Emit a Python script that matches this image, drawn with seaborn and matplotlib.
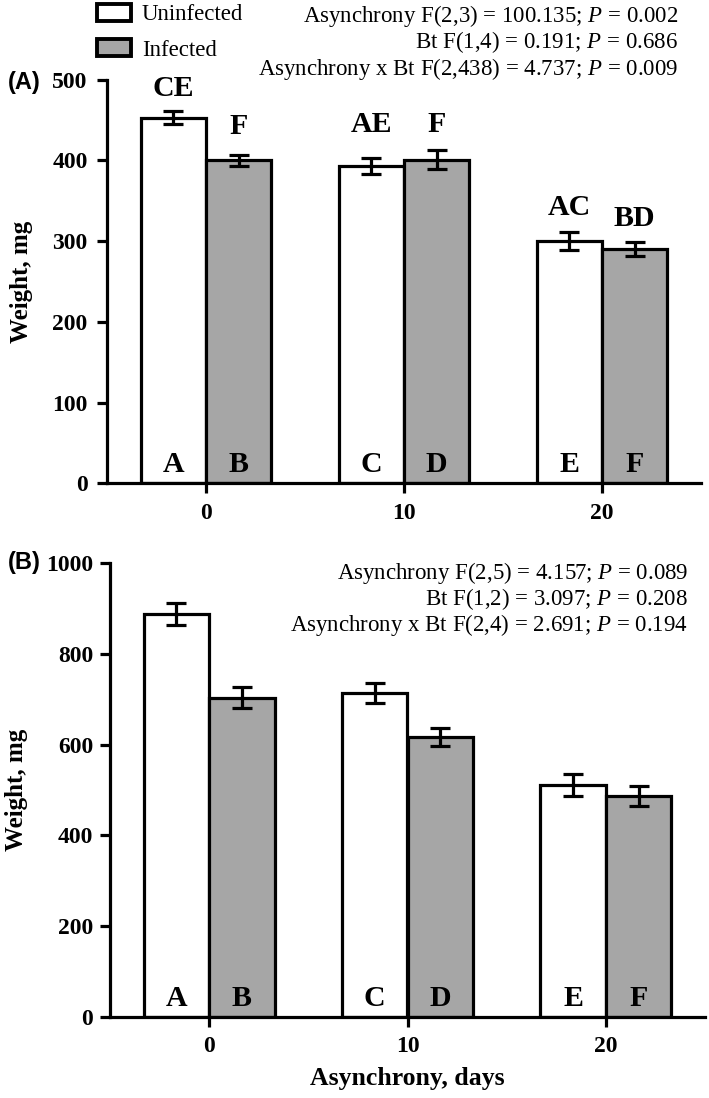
import matplotlib
matplotlib.use("Agg")
import matplotlib.pyplot as plt
from matplotlib.patches import Patch
import seaborn as sns
import pandas as pd
import numpy as np

# ---------------- data ----------------
asynchrony = ["0", "10", "20"]
groups = ["Uninfected", "Infected"]

# Panel A
a_uninf = [453, 393, 300]
a_inf = [400, 401, 290]
a_uninf_err = [8, 10, 11]
a_inf_err = [7, 12, 9]
a_sig = ["CE", "F", "AE", "F", "AC", "BD"]          # order: 0U,0I,10U,10I,20U,20I
a_sig_y = [489, 442, 444, 444, 342, 328]

# Panel B
b_uninf = [888, 713, 511]
b_inf = [704, 616, 486]
b_uninf_err = [24, 22, 25]
b_inf_err = [24, 20, 22]

bar_letters = ["A", "B", "C", "D", "E", "F"]

a_stats = ["Asynchrony F(2,3) = 100.135; $\\mathit{P}$ = 0.002",
           "Bt F(1,4) = 0.191; $\\mathit{P}$ = 0.686",
           "Asynchrony x Bt F(2,438) = 4.737; $\\mathit{P}$ = 0.009"]
b_stats = ["Asynchrony F(2,5) = 4.157; $\\mathit{P}$ = 0.089",
           "Bt F(1,2) = 3.097; $\\mathit{P}$ = 0.208",
           "Asynchrony x Bt F(2,4) = 2.691; $\\mathit{P}$ = 0.194"]

# ---------------- style ----------------
sns.set_style("ticks")
plt.rcParams["font.family"] = ["Liberation Serif", "DejaVu Serif"]
plt.rcParams["mathtext.fontset"] = "custom"
plt.rcParams["mathtext.it"] = "Liberation Serif:italic"
plt.rcParams["mathtext.rm"] = "Liberation Serif"
for k in ("text.color", "axes.labelcolor", "xtick.color", "ytick.color", "axes.edgecolor"):
    plt.rcParams[k] = "black"

GREY = "#a6a6a6"
LW = 2.3
W, H = 709, 1098

fig = plt.figure(figsize=(W / 100, H / 100), dpi=100)
ax1 = fig.add_axes([107 / W, 1 - 483.3 / H, (701 - 107) / W, (483.3 - 79.6) / H])
ax2 = fig.add_axes([110 / W, 1 - 1016.7 / H, (705 - 110) / W, (1016.7 - 563.3) / H])


def make_df(unin, inf, ue, ie):
    rows = []
    for i, a in enumerate(asynchrony):
        rows.append(dict(asynchrony=a, status="Uninfected", weight=unin[i], err=ue[i]))
        rows.append(dict(asynchrony=a, status="Infected", weight=inf[i], err=ie[i]))
    return pd.DataFrame(rows)


def draw(ax, df, ymax, ystep, letter_y, sig=None, sig_y=None, ypad=8):
    sns.barplot(data=df, x="asynchrony", y="weight", hue="status",
                order=asynchrony, hue_order=groups,
                palette={"Uninfected": "white", "Infected": GREY},
                edgecolor="black", linewidth=LW, width=0.66, gap=0,
                errorbar=None, legend=False, saturation=1, ax=ax)
    for ci, grp in enumerate(groups):
        cont = ax.containers[ci]
        sub = df[df.status == grp].set_index("asynchrony").loc[asynchrony]
        for j, bar in enumerate(cont):
            xc = bar.get_x() + bar.get_width() / 2
            ax.errorbar(xc, sub.weight.iloc[j], yerr=sub.err.iloc[j], fmt="none",
                        ecolor="black", elinewidth=LW, capsize=7, capthick=LW,
                        zorder=4)
            idx = j * 2 + ci
            ax.text(xc, letter_y, bar_letters[idx], ha="center", va="center",
                    fontsize=21.5, fontweight="bold", color="black", zorder=5)
            if sig is not None:
                ax.text(xc, sig_y[idx], sig[idx], ha="center", va="center",
                        fontsize=21.5, fontweight="bold", color="black", zorder=5)
    ax.set_xlim(-0.5, 2.5)
    ax.set_ylim(0, ymax)
    ax.set_yticks(np.arange(0, ymax + 1, ystep))
    ax.set_ylabel("Weight, mg", fontsize=18, fontweight="bold")
    ax.set_xlabel("")
    sns.despine(ax=ax)
    for s in ("left", "bottom"):
        ax.spines[s].set_linewidth(LW)
        ax.spines[s].set_color("black")
    ax.tick_params(axis="both", width=LW, color="black", labelcolor="black", labelsize=17)
    ax.tick_params(axis="y", length=7, pad=ypad)
    ax.tick_params(axis="x", length=7, pad=7)
    for t in ax.get_xticklabels() + ax.get_yticklabels():
        t.set_fontweight("bold")


dfa = make_df(a_uninf, a_inf, a_uninf_err, a_inf_err)
dfb = make_df(b_uninf, b_inf, b_uninf_err, b_inf_err)

draw(ax1, dfa, 500, 100, 23, a_sig, a_sig_y, ypad=7)
draw(ax2, dfb, 1000, 200, 41, ypad=5)

ax1.yaxis.set_label_coords((33 - 107) / 594, 0.5)
ax2.yaxis.set_label_coords((28 - 110) / 595, 0.5)
ax2.set_xlabel("Asynchrony, days", fontsize=18.5, fontweight="bold", labelpad=7)

# stats text
for i, s in enumerate(a_stats):
    fig.text(678 / W, 1 - (16 + 26.5 * i) / H, s, ha="right", va="center", fontsize=16.5)
for i, s in enumerate(b_stats):
    fig.text(688 / W, 1 - (573 + 26 * i) / H, s, ha="right", va="center", fontsize=16.5)

# panel labels
fig.text(8 / W, 1 - 83 / H, "(A)", ha="left", va="center", fontsize=17,
         fontweight="bold", family="Liberation Sans")
fig.text(8 / W, 1 - 563 / H, "(B)", ha="left", va="center", fontsize=17,
         fontweight="bold", family="Liberation Sans")

# legend
handles = [Patch(facecolor="white", edgecolor="black", linewidth=2.8, label="Uninfected"),
           Patch(facecolor=GREY, edgecolor="black", linewidth=2.8, label="Infected")]
fig.legend(handles=handles, loc="upper left", bbox_to_anchor=(97 / W, 1 - 4 / H),
           bbox_transform=fig.transFigure, frameon=False, borderpad=0,
           borderaxespad=0, handlelength=1.5, handleheight=0.75,
           handletextpad=0.45, labelspacing=0.6, fontsize=16.5)

fig.savefig("out.png", dpi=100)
